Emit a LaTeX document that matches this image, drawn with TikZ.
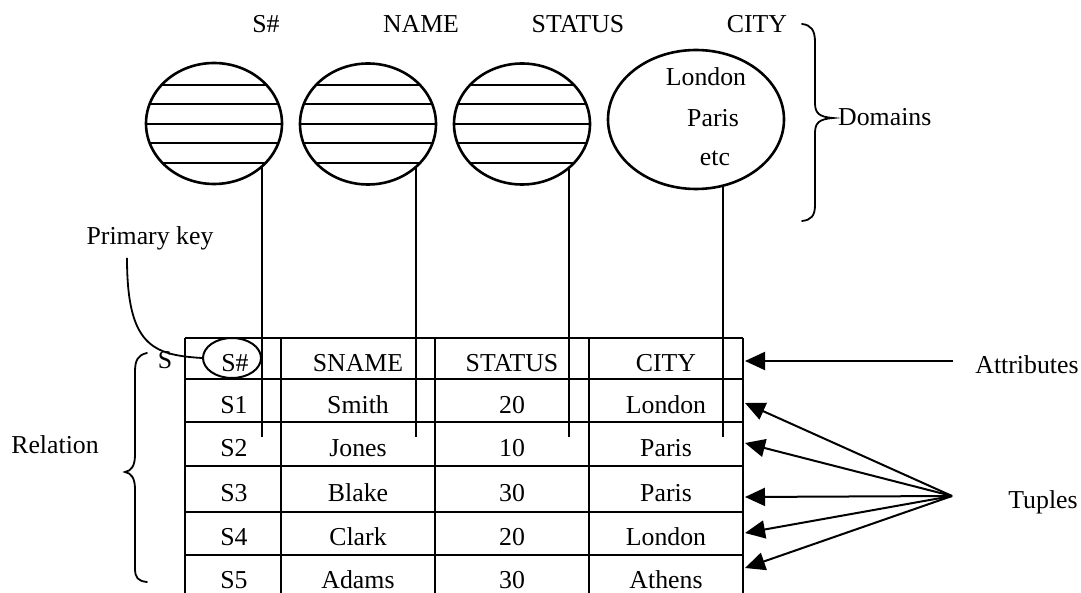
\documentclass[tikz,border=0pt]{standalone}
\usepackage{fontspec}
\setmainfont{Liberation Serif}
\usetikzlibrary{arrows.meta,shapes.geometric}
\begin{document}
\begin{tikzpicture}[x=1pt,y=-1pt,
  txt/.style={font=\fontsize{25.8}{30}\selectfont, inner sep=0pt, anchor=base},
  dom/.style={draw, line width=2.6pt, ellipse, minimum width=136pt, minimum height=121pt, inner sep=0pt},
  hatch/.style={line width=1.1pt},
  grid/.style={line width=1.8pt},
  link/.style={line width=2.4pt},
  arr/.style={line width=2pt, -{Triangle[length=20pt,width=18pt]}},
  bracepath/.style={line width=1.8pt, line cap=round}]
\useasboundingbox (0,0) rectangle (1081,593);
\fill[white] (0,0) rectangle (1081,593);
\clip (0,0) rectangle (1081,593);

% domain labels
\node[txt] (lsn)   at (266,33) {S\#};
\node[txt] (lname) at (421,33) {NAME};
\node[txt] (lstat) at (578,33) {STATUS};
\node[txt] (lcity) at (757,33) {CITY};

% domains
\node[dom] (d1) at (214,123.5) {};
\node[dom] (d2) at (368,124) {};
\node[dom] (d3) at (522,124) {};
\node[dom, minimum width=176pt, minimum height=139pt] (d4) at (696,119.5) {};
\foreach \n in {d1,d2,d3}{
  \begin{scope}
    \clip (\n.center) ellipse [x radius=68pt, y radius=60.5pt];
    \foreach \yy in {85,104,124,143,163}
      \draw[hatch] (\n.west |- 0,\yy) -- (\n.east |- 0,\yy);
  \end{scope}
}
\node[txt] (v1) at (706,86)  {London};
\node[txt] (v2) at (713,127) {Paris};
\node[txt] (v3) at (715,166) {etc};

% brace over the domains
\draw[bracepath] (802,24) .. controls (811,25) and (815,30) .. (815,42) -- (815,103)
  .. controls (815,113) and (819,117) .. (833,118)
  .. controls (819,119) and (815,123) .. (815,133) -- (815,205)
  .. controls (815,216) and (811,220) .. (802,221);
\node[txt, anchor=base west] (ldom) at (838,126) {Domains};

% table grid
\foreach \yy in {338,379,422,466,512,555}
  \draw[grid] (185,\yy) -- (743,\yy);
\foreach \xx in {185,281,435,589,743}
  \draw[grid] (\xx,338) -- (\xx,600);

% header row
\node[draw, ellipse, line width=2pt, minimum width=58pt, minimum height=40pt, inner sep=0pt] (key) at (232,358) {};
\node[txt] (h1) at (235,371) {S\#};
\node[txt] (h2) at (358,371) {SNAME};
\node[txt] (h3) at (512,371) {STATUS};
\node[txt] (h4) at (666,371) {CITY};

% tuples
\foreach \r/\yy/\a/\b/\c/\d in {1/413/S1/Smith/20/London,
                                2/456/S2/Jones/10/Paris,
                                3/501/S3/Blake/30/Paris,
                                4/545/S4/Clark/20/London,
                                5/588/S5/Adams/30/Athens}{
  \node[txt] (r\r a) at (234,\yy) {\a};
  \node[txt] (r\r b) at (358,\yy) {\b};
  \node[txt] (r\r c) at (512,\yy) {\c};
  \node[txt] (r\r d) at (666,\yy) {\d};
}

% connectors from the domains down into the columns
\coordinate (c1) at (262,437);
\coordinate (c2) at (416,437);
\coordinate (c3) at (569,437);
\coordinate (c4) at (723,437);
\draw[link] (d1.-42 -| c1) -- (c1);
\draw[link] (d2.-42 -| c2) -- (c2);
\draw[link] (d3.-42 -| c3) -- (c3);
\draw[link] (d4.-68 -| c4) -- (c4);

% relation name and primary key
\node[txt] (rel) at (165,368) {S};
\node[txt] (pk) at (150,245) {Primary key};
\draw[line width=1.8pt] ([xshift=-23pt,yshift=-7pt]pk.south) .. controls (127,345) and (152,355) .. (key.west);

% brace over the relation
\draw[bracepath] (147,353) .. controls (138,355) and (135,360) .. (135,372) -- (135,455)
  .. controls (135,466) and (131,471) .. (125,472)
  .. controls (131,473) and (135,478) .. (135,489) -- (135,568)
  .. controls (135,578) and (138,581) .. (147,582);
\node[txt] (lrel) at (55,453) {Relation};

% attributes
\node[txt] (lattr) at (1027,373) {Attributes};
\coordinate (as) at (953,361);
\coordinate (ae) at (745,361);
\draw[arr] (as) -- (ae);

% tuples
\node[txt] (ltup) at (1043,508) {Tuples};
\coordinate (tp) at (952,496);
\coordinate (t1) at (745,403);
\coordinate (t2) at (745,443);
\coordinate (t3) at (745,497);
\coordinate (t4) at (745,533);
\coordinate (t5) at (745,568);
\foreach \t in {t1,t2,t3,t4,t5}
  \draw[arr] (tp) -- (\t);
\end{tikzpicture}
\end{document}
